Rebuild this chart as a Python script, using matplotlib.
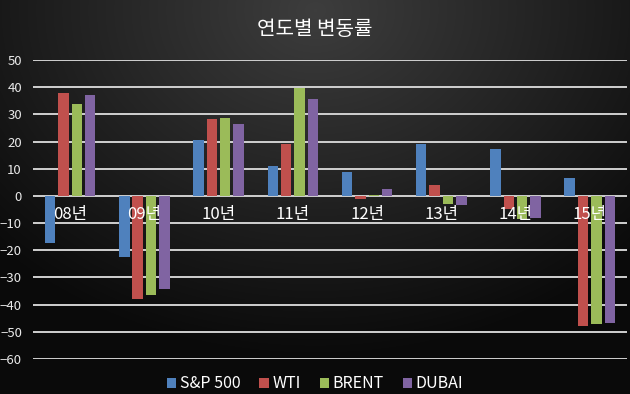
import numpy as np
import matplotlib.pyplot as plt

plt.rcParams['font.family'] = ['Noto Sans CJK KR', 'DejaVu Sans']

years = ['08년', '09년', '10년', '11년', '12년', '13년', '14년', '15년']
sp500 = [-17.4, -22.3, 20.6, 11.1, 8.7, 19.1, 17.4, 6.7]
wti = [37.7, -38.0, 28.3, 19.2, -1.0, 4.0, -4.9, -47.8]
brent = [33.8, -36.5, 28.8, 39.6, 0.3, -2.8, -8.5, -47.2]
dubai = [37.1, -34.2, 26.3, 35.7, 2.7, -3.3, -8.1, -46.9]

series = [('S&P 500', sp500, '#4F81BD'),
          ('WTI', wti, '#C0504D'),
          ('BRENT', brent, '#9BBB59'),
          ('DUBAI', dubai, '#8064A2')]

fig = plt.figure(figsize=(6.3, 3.94), dpi=100)

# dark radial background, lighter near the top centre
bg = fig.add_axes([0, 0, 1, 1], zorder=-10)
yy, xx = np.mgrid[0:394, 0:630]
d = np.sqrt(((xx - 315) / 420.0) ** 2 + ((yy - 10) / 330.0) ** 2)
shade = np.clip(0.24 - 0.19 * d, 0.04, 0.26)
bg.imshow(np.dstack([shade, shade, shade]), aspect='auto', extent=[0, 1, 0, 1])
bg.axis('off')

pos = [0.0524, 0.0888, 0.9426, 0.7589]
ax = fig.add_axes(pos)
ax.set_facecolor('none')

x = np.arange(len(years))
width = 0.14
step = 0.18
for k, (name, vals, color) in enumerate(series):
    ax.bar(x + (k - 1.5) * step, vals, width, color=color, label=name, zorder=3)

ax.set_ylim(-60, 50)
ax.set_xlim(-0.5, len(years) - 0.5)
ax.set_yticks(range(-60, 51, 10))
ax.yaxis.grid(True, color='#d0d0d0', linewidth=1.4, zorder=1)
for s in ax.spines.values():
    s.set_visible(False)
ax.set_xticks([])
ax.tick_params(axis='y', length=0, pad=8, colors='#e8e8e8', labelsize=9.5)

# category labels sit on top of the bars, just under the zero line
top = fig.add_axes(pos, zorder=5)
top.set_facecolor('none')
top.set_xlim(ax.get_xlim())
top.set_ylim(ax.get_ylim())
top.set_yticks([])
for s in top.spines.values():
    s.set_visible(False)
top.spines['bottom'].set_position(('data', 0))
top.set_xticks(x)
top.set_xticklabels(years)
top.tick_params(axis='x', length=0, pad=7, colors='white', labelsize=12)

fig.text(0.5, 0.925, '연도별 변동률', color='white', fontsize=14.5, ha='center', va='center')

fig.legend(handles=ax.get_legend_handles_labels()[0], loc='center',
           bbox_to_anchor=(0.5, 0.026), ncol=4, frameon=False,
           fontsize=11.5, labelcolor='white', handlelength=0.6, handleheight=0.6,
           handletextpad=0.2, columnspacing=1.2)

fig.savefig('out.png', dpi=100)
